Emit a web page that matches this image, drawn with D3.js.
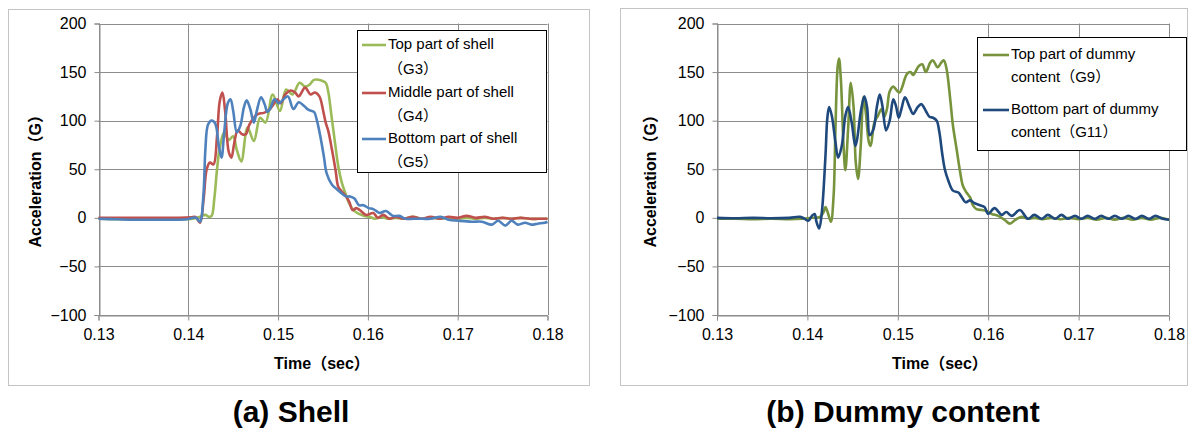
<!DOCTYPE html>
<html><head><meta charset="utf-8">
<script src="https://cdn.jsdelivr.net/npm/d3@7"></script>
<style>body{margin:0;background:#fff}svg{display:block}</style>
</head><body>
<svg id="c" width="1194" height="432"></svg>
<script>
// ---- data ----
const xTicks = [0.13, 0.14, 0.15, 0.16, 0.17, 0.18];
const yTicks = [-100, -50, 0, 50, 100, 150, 200];

// Shell, top part (G3)
const g3Ms = [130,133,136,139,140.5,141.3,141.9,142.3,142.6,142.9,143.2,143.5,144.0,144.5,145.0,145.4,145.9,146.6,147.3,148.0,148.6,149.4,150.2,150.9,151.6,152.4,153.0,153.5,154.0,154.9,155.3,155.6,155.9,156.3,156.7,157.1,157.5,157.9,158.4,159.0,159.6,160.2,160.8,161.5,162.2,163.0,164,165,166,167,168,169,170,171,172,173,174,175,176,177,178,179,180];
const g3Val = [-1,-1.5,-2,-1.5,-1,1,3,1,2,20,50,72,88,80,84,70,58,93,79,103,98,127,110,132,127,139,135,137,142,141,139,129,108,80,53,36,25,15,8,4,2,1,-1,1,-1,0,-1,1,-1,0,-1,0,-1,0,-1,0,-1,0,-1,0,-1,-1,-1];
// Shell, middle part (G4)
const g4Ms = [130,133,136,139,140.3,140.8,141.3,141.7,142.05,142.4,142.8,143.2,143.5,143.8,144.1,144.5,144.8,145.1,145.5,146.0,146.4,146.8,147.3,147.8,148.4,149.0,149.5,149.9,150.3,150.8,151.4,151.9,152.3,153.0,153.6,154.1,154.6,155.0,155.3,155.6,156.0,156.4,156.7,157.1,157.5,157.9,158.3,158.7,159.1,159.8,160.6,161.1,161.7,162.4,163.1,164,165,166,167,168,169,170,171,172,173,174,175,176,177,178,179,180];
const g4Val = [0,0,0,0,0.5,1,-5,19,50,57,55,84,120,129,110,68,62,76,90,86,86,96,103,107,108,111,117,122,118,127,131,129,125,134,127,129,125,111,98,89,70,49,32,27,23,17,8,10,8,3,5,0,3,-1,1,-1,1,-1,1,-1,1,0,2,0,1,-1,0,-1,0,-1,-1,-1];
// Shell, bottom part (G5)
const g5Ms = [130,132,134,136,138,139.8,140.5,140.9,141.3,141.7,141.9,142.2,142.6,143.0,143.4,143.7,144.0,144.4,144.7,145.0,145.4,145.8,146.2,146.5,146.9,147.3,147.6,148.1,148.5,148.8,149.1,149.6,150.1,150.6,151.1,151.7,152.3,152.9,153.4,154.0,154.3,154.7,155.1,155.4,156.0,156.6,157.1,157.6,158.0,158.5,159.0,159.5,160.1,160.6,161.3,162.0,162.8,163.5,164.2,165.1,166.1,167.0,168.1,169.0,170.1,171.6,172.7,173.8,174.5,175.3,176.0,176.7,177.5,178.2,178.9,179.7,180];
const g5Val = [-1,-1.5,-2,-2,-2,-1.5,0,0,-4,26,70,96,100,97,74,62,88,118,122,110,88,95,114,121,112,98,109,124,117,109,112,122,118,122,125,112,119,115,111,109,101,84,63,46,34,29,25,22,22,20,13,13,10,9,5,7,2,2,-1,-1,-1,-1,1,-2,-3,-4,-4,-7,-3,-8,-3,-7,-5,-7,-6,-5,-4];

// Dummy content, top part (G9)
const g9Ms = [130,132,134,136,138,139.5,140.5,141.4,141.8,142.0,142.3,142.6,142.9,143.1,143.35,143.5,143.7,144.0,144.2,144.5,144.8,145.1,145.35,145.6,145.9,146.2,146.45,146.8,147.0,147.4,147.8,148.2,148.5,148.8,149.1,149.5,149.9,150.2,150.5,151.0,151.4,151.7,152.3,152.7,153.1,153.6,153.9,154.4,154.9,155.1,155.4,155.8,156.1,156.5,156.9,157.2,157.6,158.0,158.3,158.7,159.3,159.8,160.4,161.1,161.8,162.4,163.0,163.7,164.4,165.2,166,167,168,169,170,171,172,173,174,175,176,177,178,179,180];
const g9Val = [-1,-1,-1.5,-1,-1.5,-1,0,1,6,11,4,-4,23,91,156,164,143,74,49,91,139,115,57,40,74,124,109,78,74,98,105,112,104,112,130,135,131,129,135,148,150,147,156,158,150,160,162,155,161,162,153,122,95,71,47,33,26,21,13,9,8,7,4,2,-2,-6,-2,1,-1,0,-1.5,0,-1.5,0,-1.5,0,-2,0,-2,0,-2,0,-2,0,-2];
// Dummy content, bottom part (G11)
const g11Ms = [130,132,134,136,138,139.2,139.7,140.1,140.5,140.8,141.0,141.3,141.6,142.0,142.2,142.4,142.7,143.1,143.4,143.8,144.2,144.5,144.9,145.3,145.5,145.9,146.3,146.6,146.9,147.3,147.7,148.0,148.3,148.7,149.1,149.5,149.8,150.1,150.4,150.8,151.3,151.7,152.2,152.6,153.1,153.5,153.9,154.3,154.6,154.9,155.2,155.6,156.1,156.7,157.1,157.5,158.0,158.5,159.1,159.6,160.0,160.7,161.5,162.0,162.6,163.5,164.4,165.1,165.9,166.6,167.4,168.1,168.8,169.6,170.3,171.0,171.8,172.5,173.3,174.0,174.8,175.5,176.3,177.0,177.8,178.5,179.3,180];
const g11Val = [0,-0.5,0,-0.5,0,1,-1,-3,2,4,-4,-11,6,64,102,114,105,78,62,74,105,114,98,74,81,109,125,114,85,91,115,127,115,90,100,122,115,103,112,124,114,107,114,117,110,104,103,100,88,67,50,38,28,26,21,16,18,15,13,11,4,10,3,6,2,8,-1,3,-1,3,-1,3,-1,2,-1,2,-1,2,-1,2,-1,2,-1,2,-1,2,-1,-2];

const shellLabels = [["Top part of shell","（G3）"],["Middle part of shell","（G4）"],["Bottom part of shell","（G5）"]];
const dummyLabels = [["Top part of dummy","content（G9）"],["Bottom part of dummy","content（G11）"]];
const shellColors = ["#9BBB59","#C0504D","#4F81BD"];
const dummyColors = ["#77933C","#1F497D"];
const panelTitles = ["(a) Shell","(b) Dummy content"];
const yTitle = "Acceleration（G）";
const xTitle = "Time（sec）";

// ---- drawing ----
const svg = d3.select("#c");
const FONT = "'Liberation Sans', Arial, 'Noto Sans CJK JP', sans-serif";

const panels = [
  {frame:[8.5,9.5,581,376], x0:98.5, x1:547.5, yTitleX:37, xTitleX:322, titleX:291,
   series:[[g3Ms,g3Val],[g4Ms,g4Val],[g5Ms,g5Val]], colors:shellColors, labels:shellLabels,
   legend:{x:357.5,y:30.5,w:189,h:142,rows:[[45,70],[93,117],[139,163]],lx0:362,lx1:386,tx:388,sub:388}},
  {frame:[620.5,8.5,567,377], x0:717, x1:1169, yTitleX:652, xTitleX:940, titleX:903,
   series:[[g9Ms,g9Val],[g11Ms,g11Val]], colors:dummyColors, labels:dummyLabels,
   legend:{x:977.5,y:37.5,w:209,h:113,rows:[[55,78],[110,133]],lx0:983,lx1:1009,tx:1011,sub:1011}}
];

const yTop = 23.5, yBot = 315;

panels.forEach((p, pi) => {
  const g = svg.append("g");
  g.append("rect").attr("x",p.frame[0]).attr("y",p.frame[1]).attr("width",p.frame[2]).attr("height",p.frame[3])
    .attr("fill","#fff").attr("stroke","#c4c4c4").attr("stroke-width",1);

  const x = d3.scaleLinear().domain([0.13,0.18]).range([p.x0,p.x1]);
  const y = d3.scaleLinear().domain([-100,200]).range([yBot,yTop]);

  // grid
  g.append("g").selectAll("line").data(yTicks).join("line")
    .attr("x1",p.x0).attr("x2",p.x1).attr("y1",d=>Math.round(y(d))+0.5).attr("y2",d=>Math.round(y(d))+0.5)
    .attr("stroke","#8c8c8c").attr("stroke-width",1);
  g.append("g").selectAll("line").data(xTicks).join("line")
    .attr("x1",d=>Math.round(x(d))+0.5).attr("x2",d=>Math.round(x(d))+0.5).attr("y1",yTop).attr("y2",yBot)
    .attr("stroke","#8c8c8c").attr("stroke-width",1);

  // axes
  const ax = g.append("g").attr("transform",`translate(0,${Math.round(yBot)+0.5})`)
    .call(d3.axisBottom(x).tickValues(xTicks).tickSize(5).tickPadding(6).tickFormat(d3.format(".2f")));
  const ay = g.append("g").attr("transform",`translate(${Math.round(p.x0)+0.5},0)`)
    .call(d3.axisLeft(y).tickValues(yTicks).tickSize(5).tickPadding(8));
  [ax,ay].forEach(a=>{
    a.select(".domain").attr("stroke","#8c8c8c");
    a.selectAll(".tick line").attr("stroke","#8c8c8c");
    a.selectAll("text").attr("font-family",FONT).attr("font-size",16).attr("fill","#000");
  });
  ax.selectAll("text").attr("dy","0.85em");

  // lines
  const line = d3.line().x(d=>x(d[0]/1000)).y(d=>y(d[1])).curve(d3.curveCatmullRom.alpha(0.5));
  p.series.forEach((s,i)=>{
    const pts = s[0].map((t,k)=>[t,s[1][k]]);
    g.append("path").datum(pts).attr("d",line).attr("fill","none")
      .attr("stroke",p.colors[i]).attr("stroke-width",2.6).attr("stroke-linejoin","round");
  });

  // axis titles
  g.append("text").attr("transform",`translate(${p.yTitleX},${(yTop+yBot)/2+8}) rotate(-90)`)
    .attr("text-anchor","middle").attr("dominant-baseline","middle")
    .attr("font-family",FONT).attr("font-weight","bold").attr("font-size",16).text(yTitle);
  g.append("text").attr("x",p.xTitleX).attr("y",369).attr("text-anchor","middle")
    .attr("font-family",FONT).attr("font-weight","bold").attr("font-size",16).text(xTitle);

  // legend
  const L = p.legend;
  g.append("rect").attr("x",L.x).attr("y",L.y).attr("width",L.w).attr("height",L.h)
    .attr("fill","#fff").attr("stroke","#000").attr("stroke-width",1);
  p.labels.forEach((lab,i)=>{
    const r = L.rows[i];
    g.append("line").attr("x1",L.lx0).attr("x2",L.lx1).attr("y1",r[0]).attr("y2",r[0])
      .attr("stroke",p.colors[i]).attr("stroke-width",2.6);
    g.append("text").attr("x",L.tx).attr("y",r[0]).attr("dominant-baseline","middle")
      .attr("font-family",FONT).attr("font-size",15).text(lab[0]);
    g.append("text").attr("x",L.sub).attr("y",r[1]).attr("dominant-baseline","middle")
      .attr("font-family",FONT).attr("font-size",15).text(lab[1]);
  });

  // panel title
  svg.append("text").attr("x",p.titleX).attr("y",422).attr("text-anchor","middle")
    .attr("font-family",FONT).attr("font-weight","bold").attr("font-size",30).text(panelTitles[pi]);
});
</script>
</body></html>
